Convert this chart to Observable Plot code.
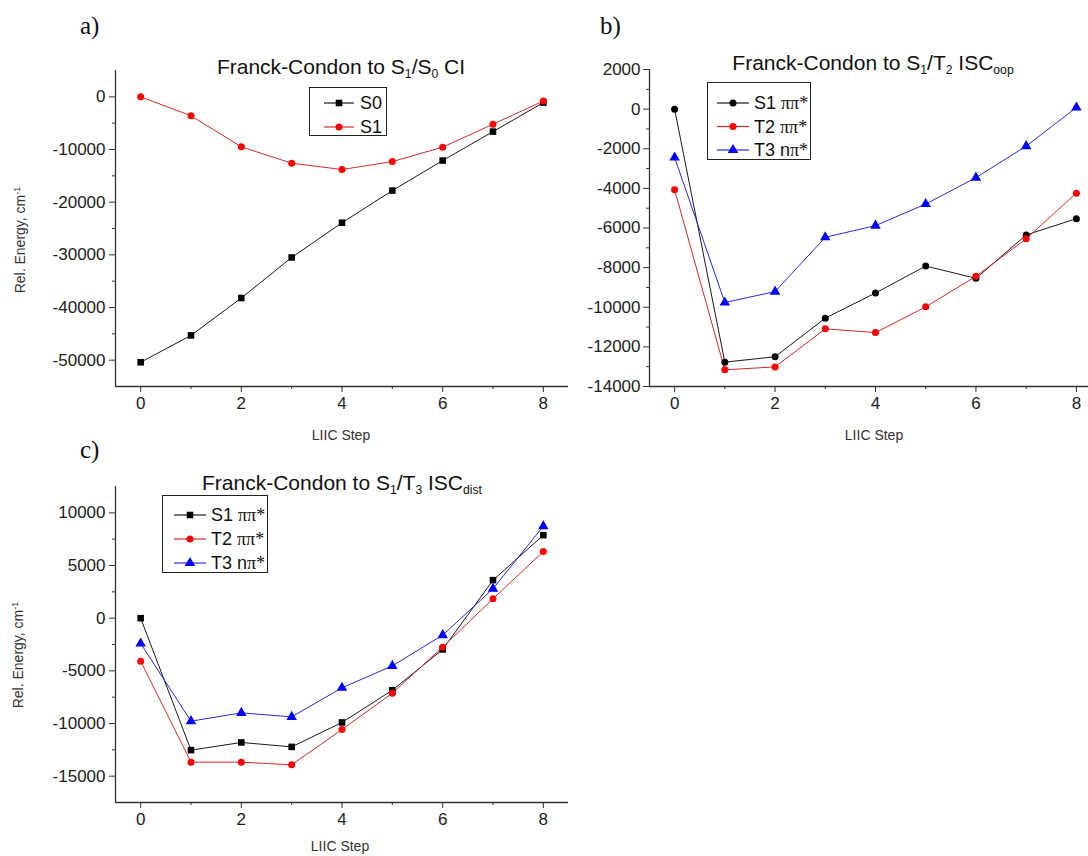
<!DOCTYPE html>
<html><head><meta charset="utf-8">
<script src="https://cdn.jsdelivr.net/npm/d3@7"></script>
<script src="https://cdn.jsdelivr.net/npm/@observablehq/plot@0.6"></script>
<style>
html,body{margin:0;padding:0;background:#fff;overflow:hidden}
#root{position:relative;width:1088px;height:856px;overflow:hidden;background:#fff;font-family:"Liberation Sans",Arial,sans-serif;color:#222}
.abs{position:absolute}
.plab{position:absolute;font-family:"Liberation Serif","Times New Roman",serif;font-size:25px;line-height:1;color:#111}
.title{position:absolute;font-size:21px;white-space:nowrap;transform:translate(-50%,-50%);line-height:1;color:#111}
.title sub{font-size:58%;vertical-align:-0.35em;line-height:0}
.xlab{position:absolute;font-size:14px;white-space:nowrap;transform:translate(-50%,-50%);line-height:1;color:#333}
.ylab{position:absolute;font-size:14px;white-space:nowrap;transform:translate(-50%,-50%) rotate(-90deg);line-height:1;color:#333}
.ylab sup{font-size:65%;vertical-align:0.55em;line-height:0}
.legend{position:absolute;border:1.5px solid #222;background:#fff;box-sizing:border-box}
.legend .ltxt{position:absolute;font-size:18px;white-space:nowrap;transform:translateY(-50%);line-height:1;color:#111}
.legend .gr{font-family:"Liberation Serif","Times New Roman",serif}
.legend svg{position:absolute;left:0;top:0;overflow:visible}
</style></head>
<body><div id="root"></div>
<script>
// ---------- data ----------
const steps = [0, 1, 2, 3, 4, 5, 6, 7, 8];
const xMajor = [0, 2, 4, 6, 8];
const xMinor = [1, 3, 5, 7];

// panel a) Franck-Condon to S1/S0 CI
const aS0 = [-50400, -45300, -38200, -30500, -23900, -17800, -12100, -6600, -1100];
const aS1 = [0, -3600, -9500, -12600, -13800, -12300, -9550, -5200, -800];
const aYMajor = [0, -10000, -20000, -30000, -40000, -50000];
const aYMinor = [-5000, -15000, -25000, -35000, -45000];

// panel b) Franck-Condon to S1/T2 ISCoop
const bS1 = [0, -12770, -12500, -10550, -9280, -7920, -8540, -6350, -5530];
const bT2 = [-4070, -13160, -13010, -11090, -11280, -9980, -8440, -6540, -4240];
const bT3 = [-2440, -9760, -9210, -6470, -5880, -4790, -3460, -1870, 80];
const bYMajor = [2000, 0, -2000, -4000, -6000, -8000, -10000, -12000, -14000];
const bYMinor = [1000, -1000, -3000, -5000, -7000, -9000, -11000, -13000];

// panel c) Franck-Condon to S1/T3 ISCdist
const cS1 = [0, -12530, -11800, -12220, -9900, -6840, -2970, 3610, 7880];
const cT2 = [-4080, -13670, -13670, -13920, -10570, -7120, -2750, 1840, 6330];
const cT3 = [-2400, -9780, -8990, -9370, -6610, -4530, -1610, 2790, 8730];
const cYMajor = [10000, 5000, 0, -5000, -10000, -15000];
const cYMinor = [7500, 2500, -2500, -7500, -12500];

// ---------- drawing ----------
const root = document.getElementById("root");
const AXIS = "#333";
const STYLE = {
  black: {line: "#1a1a1a", fill: "#000"},
  red: {line: "#d42a2a", fill: "#ff0000"},
  blue: {line: "#2a2ad4", fill: "#0000ff"}
};
const SYM_R = {square: 3.7, circle: 3.5, triangle: 3.9};

function addEl(tag, cls, html, css) {
  const e = document.createElement(tag);
  if (cls) e.className = cls;
  if (html != null) e.innerHTML = html;
  Object.assign(e.style, css || {});
  root.appendChild(e);
  return e;
}

function panel(o) {
  const marks = [];
  marks.push(Plot.ruleX([o.xDomain[0]], {stroke: AXIS, strokeWidth: 1.3}));
  marks.push(Plot.ruleY([o.yDomain[0]], {stroke: AXIS, strokeWidth: 1.3}));
  marks.push(Plot.axisX(xMajor, {tickSize: 6, tickPadding: 4, tickFormat: d => String(d), label: null, stroke: AXIS, color: "#222"}));
  marks.push(Plot.axisX(xMinor, {tickSize: 3, tickFormat: () => "", label: null, stroke: AXIS}));
  marks.push(Plot.axisY(o.yMajor, {tickSize: 6, tickPadding: o.yPad, tickFormat: d => String(d), label: null, stroke: AXIS, color: "#222"}));
  marks.push(Plot.axisY(o.yMinor, {tickSize: 3, tickFormat: () => "", label: null, stroke: AXIS}));
  for (const s of o.series) {
    const data = steps.map((st, i) => ({step: st, value: s.values[i]}));
    marks.push(Plot.line(data, {x: "step", y: "value", stroke: STYLE[s.color].line, strokeWidth: 1}));
  }
  for (const s of o.series) {
    const data = steps.map((st, i) => ({step: st, value: s.values[i]}));
    marks.push(Plot.dot(data, {x: "step", y: "value", symbol: s.symbol, fill: STYLE[s.color].fill, stroke: "none", r: SYM_R[s.symbol]}));
  }
  const svg = Plot.plot({
    width: o.width, height: o.height,
    marginLeft: o.mL, marginRight: o.mR, marginTop: o.mT, marginBottom: o.mB,
    x: {domain: o.xDomain, label: null},
    y: {domain: o.yDomain, label: null},
    style: {fontFamily: '"Liberation Sans", Arial, sans-serif', fontSize: "17px", background: "transparent", overflow: "visible", color: "#222"},
    marks
  });
  svg.style.position = "absolute";
  svg.style.left = o.left + "px";
  svg.style.top = o.top + "px";
  root.appendChild(svg);

  // panel letter, title, axis labels
  addEl("div", "plab", o.letter, {left: o.letterPos[0] + "px", top: o.letterPos[1] + "px"});
  addEl("div", "title", o.title, {left: o.titlePos[0] + "px", top: o.titlePos[1] + "px"});
  addEl("div", "xlab", "LIIC Step", {left: o.xlabPos[0] + "px", top: o.xlabPos[1] + "px"});
  if (o.ylabPos) addEl("div", "ylab", "Rel. Energy, cm<sup>-1</sup>", {left: o.ylabPos[0] + "px", top: o.ylabPos[1] + "px"});

  // legend
  const L = o.legend;
  const box = addEl("div", "legend", null, {left: L.x + "px", top: L.y + "px", width: L.w + "px", height: L.h + "px"});
  const ns = "http://www.w3.org/2000/svg";
  const lsvg = document.createElementNS(ns, "svg");
  lsvg.setAttribute("width", L.w);
  lsvg.setAttribute("height", L.h);
  box.appendChild(lsvg);
  o.series.forEach((s, i) => {
    const cy = L.row0 + i * L.pitch;
    const ln = document.createElementNS(ns, "line");
    ln.setAttribute("x1", L.lx0); ln.setAttribute("x2", L.lx1);
    ln.setAttribute("y1", cy); ln.setAttribute("y2", cy);
    ln.setAttribute("stroke", STYLE[s.color].line);
    ln.setAttribute("stroke-width", 1.2);
    lsvg.appendChild(ln);
    const p = document.createElementNS(ns, "path");
    const sym = {square: d3.symbolSquare, circle: d3.symbolCircle, triangle: d3.symbolTriangle}[s.symbol];
    const r = SYM_R[s.symbol];
    p.setAttribute("d", d3.symbol(sym, Math.PI * r * r)());
    p.setAttribute("transform", `translate(${(L.lx0 + L.lx1) / 2},${cy})`);
    p.setAttribute("fill", STYLE[s.color].fill);
    lsvg.appendChild(p);
    const t = document.createElement("div");
    t.className = "ltxt";
    t.innerHTML = s.label;
    t.style.left = L.tx + "px";
    t.style.top = cy + "px";
    box.appendChild(t);
  });
}

panel({
  left: 0, top: 0, width: 580, height: 440, mL: 115, mR: 12, mT: 70, mB: 54, yPad: 4,
  xDomain: [-0.5, 8.5], yDomain: [-55000, 5000], yMajor: aYMajor, yMinor: aYMinor,
  series: [
    {label: "S0", values: aS0, color: "black", symbol: "square"},
    {label: "S1", values: aS1, color: "red", symbol: "circle"}
  ],
  letter: "a)", letterPos: [80, 13],
  title: "Franck-Condon to S<sub>1</sub>/S<sub>0</sub> CI", titlePos: [341, 66],
  xlabPos: [341, 435], ylabPos: [20, 240],
  legend: {x: 309, y: 87, w: 78, h: 49, row0: 15, pitch: 24, lx0: 14, lx1: 44, tx: 50}
});

panel({
  left: 545, top: 0, width: 560, height: 440, mL: 104, mR: 4, mT: 69, mB: 54, yPad: 3,
  xDomain: [-0.5, 8.5], yDomain: [-14000, 2000], yMajor: bYMajor, yMinor: bYMinor,
  series: [
    {label: 'S1 <span class="gr">ππ*</span>', values: bS1, color: "black", symbol: "circle"},
    {label: 'T2 <span class="gr">ππ*</span>', values: bT2, color: "red", symbol: "circle"},
    {label: 'T3 n<span class="gr">π*</span>', values: bT3, color: "blue", symbol: "triangle"}
  ],
  letter: "b)", letterPos: [600, 13],
  title: "Franck-Condon to S<sub>1</sub>/T<sub>2</sub> ISC<sub>oop</sub>", titlePos: [873, 62],
  xlabPos: [874, 435], ylabPos: null,
  legend: {x: 707, y: 82, w: 104, h: 78, row0: 20, pitch: 23.5, lx0: 9, lx1: 41, tx: 46}
});

panel({
  left: 0, top: 430, width: 580, height: 426, mL: 115, mR: 12, mT: 56, mB: 54, yPad: 4,
  xDomain: [-0.5, 8.5], yDomain: [-17500, 12500], yMajor: cYMajor, yMinor: cYMinor,
  series: [
    {label: 'S1 <span class="gr">ππ*</span>', values: cS1, color: "black", symbol: "square"},
    {label: 'T2 <span class="gr">ππ*</span>', values: cT2, color: "red", symbol: "circle"},
    {label: 'T3 n<span class="gr">π*</span>', values: cT3, color: "blue", symbol: "triangle"}
  ],
  letter: "c)", letterPos: [80, 437],
  title: "Franck-Condon to S<sub>1</sub>/T<sub>3</sub> ISC<sub>dist</sub>", titlePos: [342, 482],
  xlabPos: [340, 846], ylabPos: [18, 655],
  legend: {x: 162, y: 495, w: 106, h: 78, row0: 19, pitch: 24, lx0: 11, lx1: 43, tx: 48}
});
</script></body></html>
